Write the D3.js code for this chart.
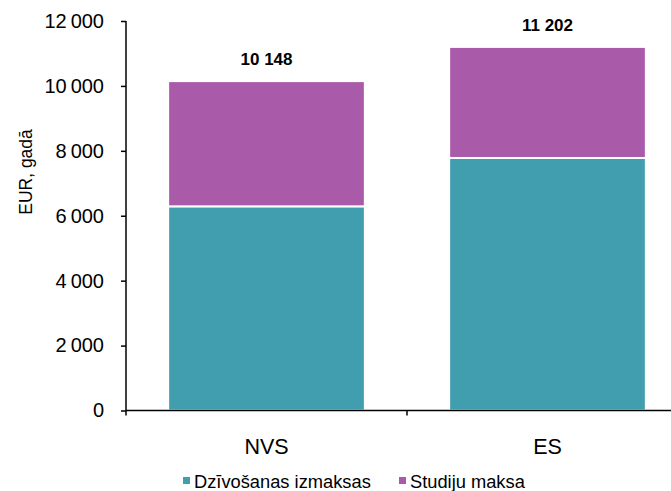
<!DOCTYPE html>
<html>
<head>
<meta charset="utf-8">
<script src="https://cdn.jsdelivr.net/npm/d3@7"></script>
<style>
  body { margin: 0; background: #fff; }
  svg { font-family: "Liberation Sans", Arial, sans-serif; }
</style>
</head>
<body>
<svg id="chart" width="671" height="491"></svg>
<script>
const categories = ["NVS", "ES"];
const living = [6290, 7780];      // Dzīvošanas izmaksas
const tuition = [3858, 3422];     // Studiju maksa
const totals = [10148, 11202];
const seriesNames = ["Dzīvošanas izmaksas", "Studiju maksa"];
const colors = ["#419EAE", "#A95BA9"];
const yTicks = [0, 2000, 4000, 6000, 8000, 10000, 12000];

const svg = d3.select("#chart");
const plotLeft = 126, plotRight = 688, plotTop = 21, plotBottom = 410.5;

const fmt = v => d3.format(",")(v).replace(/,/g, "\u2009");

const x = d3.scaleBand()
    .domain(categories)
    .range([plotLeft, plotRight])
    .paddingInner(0.3)
    .paddingOuter(0.15);

const xCat = d3.scaleBand().domain(categories).range([plotLeft, plotRight]);

const y = d3.scaleLinear()
    .domain([0, 12000])
    .range([plotBottom, plotTop]);

const data = categories.map((c, i) => ({ cat: c, living: living[i], tuition: tuition[i] }));
const stack = d3.stack().keys(["living", "tuition"])(data);

// bars
svg.append("g")
  .selectAll("g")
  .data(stack)
  .join("g")
    .attr("fill", (d, i) => colors[i])
  .selectAll("rect")
  .data(d => d)
  .join("rect")
    .attr("x", d => x(d.data.cat))
    .attr("width", x.bandwidth())
    .attr("y", d => y(d[1]))
    .attr("height", d => y(d[0]) - y(d[1]))
    .attr("stroke", "#fff")
    .attr("stroke-width", 2);

// y axis
const yAxis = svg.append("g")
    .attr("transform", `translate(${plotLeft},0)`)
    .call(d3.axisLeft(y).tickValues(yTicks).tickSize(5).tickPadding(17).tickFormat(d => d === 0 ? "0" : fmt(d)));
yAxis.select(".domain").attr("d", `M0,${plotTop}V${plotBottom + 5}`).attr("stroke-width", 1.5);
yAxis.selectAll(".tick line").attr("stroke-width", 1.5);
yAxis.selectAll("text").attr("font-size", "20px").attr("fill", "#000");

// x axis with ticks at band edges
const xAxis = svg.append("g");
xAxis.append("line")
    .attr("x1", plotLeft).attr("x2", plotRight)
    .attr("y1", plotBottom).attr("y2", plotBottom)
    .attr("stroke", "#000").attr("stroke-width", 1.5);
xAxis.selectAll("line.tk")
  .data(categories.slice(1))
  .join("line")
    .attr("class", "tk")
    .attr("x1", d => xCat(d)).attr("x2", d => xCat(d))
    .attr("y1", plotBottom).attr("y2", plotBottom + 5)
    .attr("stroke", "#000").attr("stroke-width", 1.5);
xAxis.selectAll("text")
  .data(categories)
  .join("text")
    .attr("x", d => xCat(d) + xCat.bandwidth() / 2)
    .attr("y", 454)
    .attr("text-anchor", "middle")
    .attr("font-size", "21.5px")
    .text(d => d);

// total labels
svg.append("g")
  .selectAll("text")
  .data(categories)
  .join("text")
    .attr("x", d => x(d) + x.bandwidth() / 2)
    .attr("y", (d, i) => y(totals[i]) - 16)
    .attr("text-anchor", "middle")
    .attr("font-size", "17px")
    .attr("font-weight", "bold")
    .text((d, i) => fmt(totals[i]).replace("\u2009", " "));

// y title
svg.append("text")
    .attr("transform", "translate(32,172) rotate(-90)")
    .attr("text-anchor", "middle")
    .attr("font-size", "17.5px")
    .text("EUR, gadā");

// legend
const legendX = [183, 399];
const legend = svg.append("g")
  .selectAll("g")
  .data(seriesNames)
  .join("g")
    .attr("transform", (d, i) => `translate(${legendX[i]},0)`);
legend.append("rect")
    .attr("x", 0).attr("y", 477)
    .attr("width", 7).attr("height", 7)
    .attr("fill", (d, i) => colors[i]);
legend.append("text")
    .attr("x", 11).attr("y", 488)
    .attr("font-size", "18.3px")
    .text(d => d);
</script>
</body>
</html>
